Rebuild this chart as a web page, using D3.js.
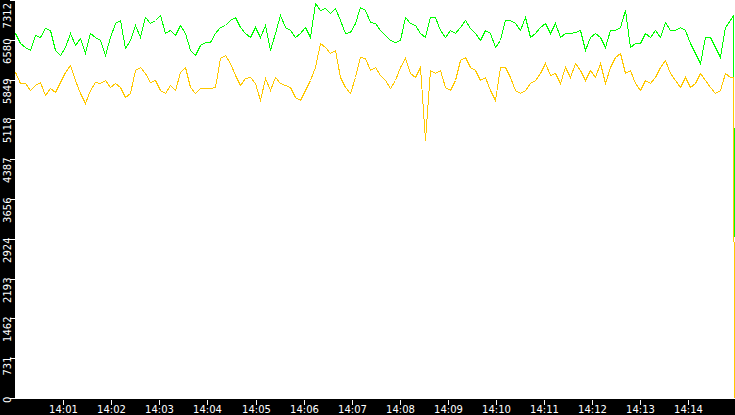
<!DOCTYPE html>
<html><head><meta charset="utf-8">
<script src="https://cdn.jsdelivr.net/npm/d3@7"></script>
<style>body{margin:0;background:#000}svg{display:block}</style>
</head><body>
<script>
const yTicks=[0,731,1462,2193,2924,3656,4387,5118,5849,6580,7312];
const xTickLabels=["14:01","14:02","14:03","14:04","14:05","14:06","14:07","14:08","14:09","14:10","14:11","14:12","14:13","14:14"];
const green=[6705,6521,6448,6393,6668,6632,6797,6760,6393,6301,6448,6705,6485,6613,6338,6705,6632,6576,6301,6632,6889,6944,6430,6576,6852,6632,6999,6889,6944,7036,6705,6760,6668,6852,6705,6393,6301,6485,6540,6540,6705,6815,6852,6944,6999,6815,6705,
6632,6815,6632,6852,6393,6705,7036,6815,6760,6632,6705,6815,6632,7256,7128,7164,7072,7164,6944,6705,6723,6889,7183,7128,6907,6889,6760,6668,
6576,6540,6576,6999,6889,6852,6705,6632,6999,6999,6760,6632,6760,6705,6815,6944,6797,6705,6576,6760,6705,6448,6576,
6944,6944,6889,6760,6999,6632,6705,6815,6889,6705,6889,6632,6705,6705,6723,6760,6393,6632,6705,6632,6448,6760,6760,
6815,7128,6448,6521,6521,6705,6632,6760,6632,6907,6760,6760,6815,6760,6521,6338,6154,6632,6632,6448,6264,6815,6944];
const yellow=[5989,5787,5787,5658,5750,5805,5566,5695,5621,5805,5989,6117,5842,5603,5419,5658,5805,5787,5842,5713,5787,5713,5529,5603,6025,6080,5970,5805,5842,5658,5603,5750,5658,5989,6080,5713,5603,5695,5695,5695,5713,6246,6301,6154,5934,5750,5878,
5897,5787,5474,5878,5658,5897,5787,5750,5713,5529,5474,5658,5842,6080,6521,6448,6338,6393,5897,5713,5603,5897,6264,6246,6025,6080,5934,5842,
5695,5842,6080,6246,5970,5897,6080,4739,6025,5970,6025,5713,5658,5842,6209,6264,6080,6025,5842,5897,5658,5474,6080,
6080,5897,5658,5603,5658,5787,5842,5970,6154,5934,5970,5787,6080,5897,6154,6025,5842,6025,5897,6154,5787,6080,6264,
6338,5970,6025,5787,5658,5842,5787,5897,6080,6209,5970,5842,5713,5897,5713,5787,5970,5842,5713,5603,5658,5970,5897];
const greenTail=[7036,2958];
const yellowTail=[5897,0];
const sampleSec=6.236; // sampling interval
const tailSec=[895.4,896.7];

const W=735,H=415,L=15,B=399;
const t0=new Date(2020,0,1,14,0,0);
const svg=d3.select("body").append("svg").attr("width",W).attr("height",H);
svg.append("rect").attr("width",W).attr("height",H).attr("fill","#000");
svg.append("rect").attr("x",L).attr("y",0).attr("width",W-L).attr("height",B).attr("fill","#fff");
const x=d3.scaleTime().domain([t0,new Date(+t0+898*1000)]).range([L,W]);
const y=d3.scaleLinear().domain([0,7312]).range([398,0]);
function series(vals,tail){
  const pts=vals.map((v,i)=>({t:new Date(+t0+i*sampleSec*1000),v}));
  tail.forEach((v,i)=>pts.push({t:new Date(+t0+tailSec[i]*1000),v}));
  return pts;
}
const line=d3.line().x(d=>Math.round(x(d.t))+0.5).y(d=>Math.round(y(d.v))+0.5);
svg.append("path").datum(series(green,greenTail)).attr("d",line).attr("fill","none").attr("stroke","#00ff00").attr("stroke-width",1).attr("shape-rendering","crispEdges");
svg.append("path").datum(series(yellow,yellowTail)).attr("d",line).attr("fill","none").attr("stroke","#ffc800").attr("stroke-width",1).attr("shape-rendering","crispEdges");

// y axis
const ya=svg.append("g");
yTicks.forEach(v=>{
  const yy=Math.round(y(v))+0.5;
  ya.append("line").attr("x1",10).attr("x2",L).attr("y1",yy).attr("y2",yy).attr("stroke","#fff");
  const ty=Math.max(yy-2,24);
  const tyy=v===7312?24:yy-2;
  ya.append("text").attr("transform",`translate(10.5,${v===7312?2:yy-2}) rotate(-90)`).attr("text-anchor",v===7312?"end":"end")
    .attr("dx",v===7312?"-0.1em":0)
    .attr("fill","#fff").attr("font-family","DejaVu Sans").attr("font-size",10).text(v);
});
// x axis
const xa=svg.append("g");
xTickLabels.forEach((s,i)=>{
  const xx=Math.round(x(new Date(+t0+(i+1)*60000)))+0.5;
  xa.append("line").attr("x1",xx).attr("x2",xx).attr("y1",400).attr("y2",405).attr("stroke","#fff");
  xa.append("text").attr("x",xx).attr("y",413).attr("text-anchor","middle").attr("fill","#fff")
    .attr("font-family","DejaVu Sans").attr("font-size",10).text(s);
});
</script>
</body></html>
